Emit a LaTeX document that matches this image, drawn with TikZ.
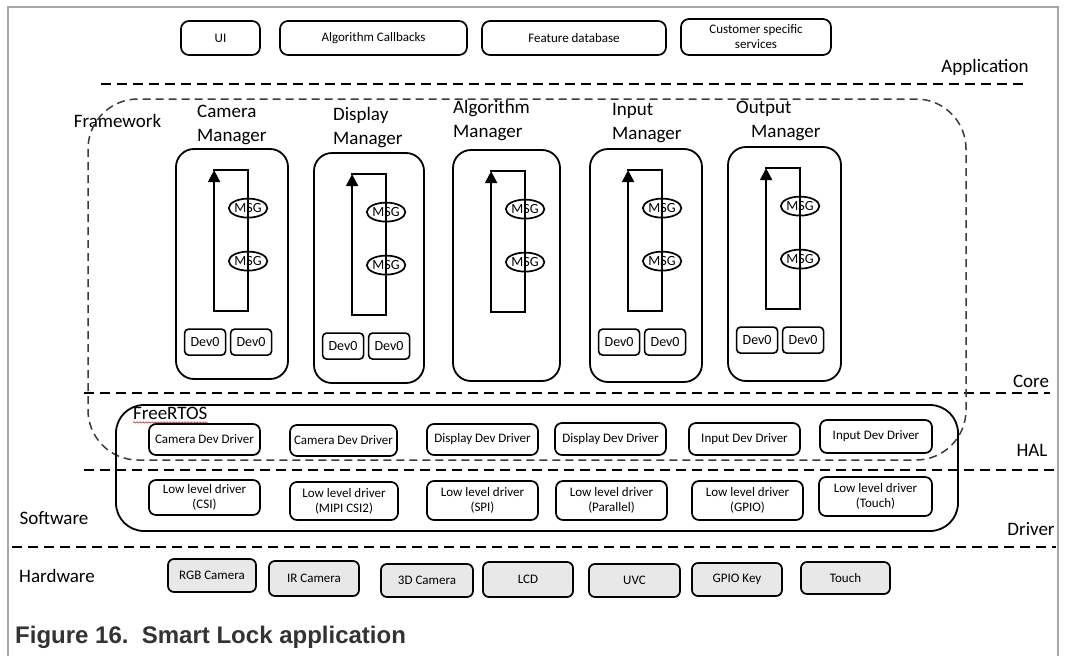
\documentclass[tikz,border=0pt]{standalone}
\usepackage{fontspec}
\setmainfont{Carlito}
\newfontfamily\captionfont{Liberation Sans}
\usetikzlibrary{shapes.geometric, arrows.meta, calc, decorations.pathmorphing}
\definecolor{framegray}{HTML}{A6A6A6}
\definecolor{hwgray}{HTML}{E8E8E8}
\definecolor{regiongray}{HTML}{3C3C3C}
\definecolor{captiongray}{HTML}{333333}

\begin{document}
\begin{tikzpicture}[x=1pt, y=-1pt]
\tikzstyle{appBox} = [rectangle, rounded corners=8pt, draw, line width=1.7pt, inner sep=0pt, align=center, font=\fontsize{13}{15}\selectfont]
\tikzstyle{managerBox} = [rectangle, rounded corners=18pt, draw, line width=1.8pt]
\tikzstyle{managerLabel} = [anchor=west, align=left, inner sep=0pt, font=\fontsize{19}{24}\selectfont]
\tikzstyle{msgEllipse} = [ellipse, draw, line width=1.7pt, minimum width=38pt, minimum height=19pt, inner sep=0pt, font=\fontsize{14}{14}\selectfont]
\tikzstyle{devBox} = [rectangle, rounded corners=4pt, draw, line width=1.6pt, minimum width=41pt, minimum height=26pt, inner sep=0pt, font=\fontsize{14}{15}\selectfont]
\tikzstyle{driverBox} = [rectangle, rounded corners=7pt, draw, line width=1.7pt, minimum width=111pt, inner sep=0pt, align=center, font=\fontsize{13}{15}\selectfont]
\tikzstyle{hwBox} = [rectangle, rounded corners=6pt, draw, fill=hwgray, line width=1.7pt, minimum height=33pt, inner sep=0pt, font=\fontsize{13}{15}\selectfont]
\tikzstyle{layerLabel} = [inner sep=0pt, font=\fontsize{19}{24}\selectfont]
\tikzstyle{layerLine} = [line width=2pt, dash pattern=on 10pt off 6pt]
\tikzstyle{loopLine} = [line width=2pt]

\useasboundingbox (0,0) rectangle (1068,656);

% outer frame
\draw[framegray, line width=1.2pt] (8,656) -- (8,7) -- (1058,7) -- (1058,656);

% application layer
\node (ui) [appBox, minimum width=79pt, minimum height=34pt] at (220.5,38) {UI};
\node (callbacks) [appBox, minimum width=187pt, minimum height=34pt] at (373.5,38) {Algorithm Callbacks};
\node (featuredb) [appBox, minimum width=184pt, minimum height=34pt] at (574,38) {Feature database};
\node (customer) [appBox, minimum width=150pt, minimum height=36pt] at (756,37) {Customer specific\\services};

% layer separators and names
\draw[layerLine] (101,84) -- (1026,84);
\draw[layerLine] (84,393) -- (1050,393);
\draw[layerLine] (84,470) -- (1054,470);
\draw[layerLine] (12,547) -- (1056,547);
\node (appLbl) [layerLabel] at (985,67) {Application};
\node (fwLbl) [layerLabel] at (117.5,121) {Framework};
\node (coreLbl) [layerLabel] at (1031,381) {Core};
\node (halLbl) [layerLabel] at (1032,450) {HAL};
\node (swLbl) [layerLabel] at (54,518) {Software};
\node (drvLbl) [layerLabel] at (1031,529) {Driver};
\node (hwLbl) [layerLabel] at (57,576) {Hardware};

% framework region
\draw[regiongray, line width=1.5pt, dash pattern=on 8pt off 5pt, rounded corners=50pt] (88,99) rectangle (966,460);

% managers
\foreach \n/\cx/\cy/\w/\h in {cam/232/264/112/230, disp/369/268/110/230, alg/506.5/265.5/107/231, inp/646/265.5/112/233, out/784.5/264/113/234} {
  \node (\n) [managerBox, minimum width=\w pt, minimum height=\h pt] at (\cx,\cy) {};
  \coordinate (\n lt) at ($(\n.north west)+(39,22)$);
  \coordinate (\n rt) at ($(\n.north west)+(73,22)$);
  \coordinate (\n lb) at ($(\n.north west)+(39,163)$);
  \coordinate (\n rb) at ($(\n.north west)+(73,163)$);
  \draw[loopLine, line cap=rect] (\n lt) -- (\n rt);
  \draw[loopLine, -{Triangle[length=12pt, width=12pt]}] (\n rt) -- (\n rb) -- (\n lb) -- (\n lt);
  \node (\n msgA) [msgEllipse] at ($(\n.north west)+(73,60)$) {MSG};
  \node (\n msgB) [msgEllipse] at ($(\n.north west)+(73,113)$) {MSG};
}
\foreach \n in {cam, disp, inp, out} {
  \node (\n devA) [devBox] at ($(\n.north west)+(30,194)$) {Dev0};
  \node (\n devB) [devBox] at ($(\n.north west)+(76,194)$) {Dev0};
}
\node (camLbl) [managerLabel] at (197,125) {Camera\\Manager};
\node (dispLbl) [managerLabel] at (333,128) {Display\\Manager};
\node (algLbl) [managerLabel] at (453,121) {Algorithm\\Manager};
\node (inpLbl) [managerLabel] at (612,123) {Input\\Manager};
\node (outLbl) [managerLabel] at (736,121) {Output\\\hspace*{15pt}Manager};

% FreeRTOS
\node (rtos) [rectangle, rounded corners=28pt, draw, line width=1.8pt, minimum width=842pt, minimum height=126pt] at (537,468) {};
\node (rtosLbl) [anchor=west, inner sep=0pt, font=\fontsize{19}{24}\selectfont] at (133,413) {FreeRTOS};
\draw[red!80!black, line width=0.5pt, decorate, decoration={snake, amplitude=0.7pt, segment length=3pt}] ($(rtosLbl.south west)+(0,3)$) -- ($(rtosLbl.south east)+(0,3)$);

% dev drivers
\node (camDrvA) [driverBox, minimum height=31pt] at (204.5,439.5) {Camera Dev Driver};
\node (camDrvB) [driverBox, minimum width=107pt, minimum height=31pt] at (343.5,440.5) {Camera Dev Driver};
\node (dispDrvA) [driverBox, minimum height=31pt] at (482.5,439.5) {Display Dev Driver};
\node (dispDrvB) [driverBox, minimum height=32pt] at (610.5,439) {Display Dev Driver};
\node (inpDrvA) [driverBox, minimum height=32pt] at (744.5,439) {Input Dev Driver};
\node (inpDrvB) [driverBox, minimum width=112pt, minimum height=33pt] at (876,436.5) {Input Dev Driver};

% low level drivers
\node (csi) [driverBox, minimum height=35pt] at (204.5,497.5) {Low level driver\\(CSI)};
\node (mipi) [driverBox, minimum width=108pt, minimum height=38pt] at (344,501) {Low level driver\\(MIPI CSI2)};
\node (spi) [driverBox, minimum height=39pt] at (482.5,500.5) {Low level driver\\(SPI)};
\node (parallel) [driverBox, minimum height=39pt] at (611.5,500.5) {Low level driver\\(Parallel)};
\node (gpio) [driverBox, minimum height=39pt] at (747.5,500.5) {Low level driver\\(GPIO)};
\node (touchDrv) [driverBox, minimum width=113pt, minimum height=39pt] at (875.5,496.5) {Low level driver\\(Touch)};

% hardware
\node (rgbCam) [hwBox, minimum width=88pt] at (212,575.5) {RGB Camera};
\node (irCam) [hwBox, minimum width=90pt, minimum height=35pt] at (314,578.5) {IR Camera};
\node (cam3d) [hwBox, minimum width=92pt] at (427,580.5) {3D Camera};
\node (lcd) [hwBox, minimum width=90pt, minimum height=35pt] at (528,579.5) {LCD};
\node (uvc) [hwBox, minimum width=91pt] at (634.5,580.5) {UVC};
\node (gpioKey) [hwBox, minimum width=90pt] at (737,579.5) {GPIO Key};
\node (touchHw) [hwBox, minimum width=89pt, minimum height=32pt] at (845.5,578) {Touch};

\node (caption) [anchor=west, inner sep=0pt, text=captiongray, font=\captionfont\bfseries\fontsize{24}{28}\selectfont] at (15,637) {Figure 16.\ \ Smart Lock application};

\end{tikzpicture}
\end{document}
